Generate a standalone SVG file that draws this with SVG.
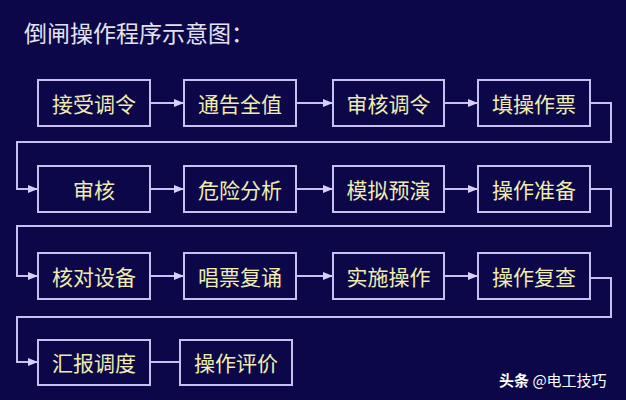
<svg xmlns="http://www.w3.org/2000/svg" width="626" height="400" viewBox="0 0 626 400">
<defs>
<marker id="ah" viewBox="0 0 10 10" refX="10" refY="5" markerWidth="10" markerHeight="10" markerUnits="userSpaceOnUse" orient="auto"><path d="M0,1 L10,5 L0,9 z" fill="#d8d0f8"/></marker>
<style>
.b rect{fill:#0b0748;stroke:#c8c0f0;stroke-width:2}
.b text{font-family:"Noto Sans CJK SC","Noto Sans",sans-serif;font-size:21px;fill:#f0ecb0;text-anchor:middle;dominant-baseline:central}
.c path{fill:none;stroke:#c8c0f0;stroke-width:2}
</style>
</defs>
<rect width="626" height="400" fill="#0b0748"/>
<text x="24" y="42" font-family="'Noto Sans CJK SC',sans-serif" font-size="23" fill="#e4e2f0">倒闸操作程序示意图：</text>
<g class="c">
<path d="M150,103 H184" marker-end="url(#ah)"/>
<path d="M296,103 H333" marker-end="url(#ah)"/>
<path d="M444,103 H478" marker-end="url(#ah)"/>
<path d="M590,103 H611 V142 H17 V189 H38" marker-end="url(#ah)"/>
<path d="M150,189 H184" marker-end="url(#ah)"/>
<path d="M296,189 H333" marker-end="url(#ah)"/>
<path d="M444,189 H478" marker-end="url(#ah)"/>
<path d="M590,189 H611 V226 H17 V276 H38" marker-end="url(#ah)"/>
<path d="M150,276 H184" marker-end="url(#ah)"/>
<path d="M296,276 H333" marker-end="url(#ah)"/>
<path d="M444,276 H478" marker-end="url(#ah)"/>
<path d="M590,278 H611 V317 H17 V362 H38" marker-end="url(#ah)"/>
<path d="M150,362 H180"/>
</g>
<g id="n1" class="b"><rect x="38" y="80" width="112" height="46"/><text x="94" y="103">接受调令</text></g>
<g id="n2" class="b"><rect x="184" y="80" width="112" height="46"/><text x="240" y="103">通告全值</text></g>
<g id="n3" class="b"><rect x="333" y="80" width="111" height="46"/><text x="388.5" y="103">审核调令</text></g>
<g id="n4" class="b"><rect x="478" y="80" width="112" height="46"/><text x="534" y="103">填操作票</text></g>
<g id="n5" class="b"><rect x="38" y="166" width="112" height="46"/><text x="94" y="189">审核</text></g>
<g id="n6" class="b"><rect x="184" y="166" width="112" height="46"/><text x="240" y="189">危险分析</text></g>
<g id="n7" class="b"><rect x="333" y="166" width="111" height="46"/><text x="388.5" y="189">模拟预演</text></g>
<g id="n8" class="b"><rect x="478" y="166" width="112" height="46"/><text x="534" y="189">操作准备</text></g>
<g id="n9" class="b"><rect x="38" y="253" width="112" height="46"/><text x="94" y="276">核对设备</text></g>
<g id="n10" class="b"><rect x="184" y="253" width="112" height="46"/><text x="240" y="276">唱票复诵</text></g>
<g id="n11" class="b"><rect x="333" y="253" width="111" height="46"/><text x="388.5" y="276">实施操作</text></g>
<g id="n12" class="b"><rect x="478" y="253" width="112" height="46"/><text x="534" y="276">操作复查</text></g>
<g id="n13" class="b"><rect x="38" y="340" width="112" height="45"/><text x="94" y="362">汇报调度</text></g>
<g id="n14" class="b"><rect x="180" y="340" width="112" height="45"/><text x="236" y="362">操作评价</text></g>
<text x="499" y="386" font-family="'Noto Sans CJK SC',sans-serif" font-size="15" fill="#ffffff"><tspan font-weight="bold">头条</tspan> @电工技巧</text>
</svg>
